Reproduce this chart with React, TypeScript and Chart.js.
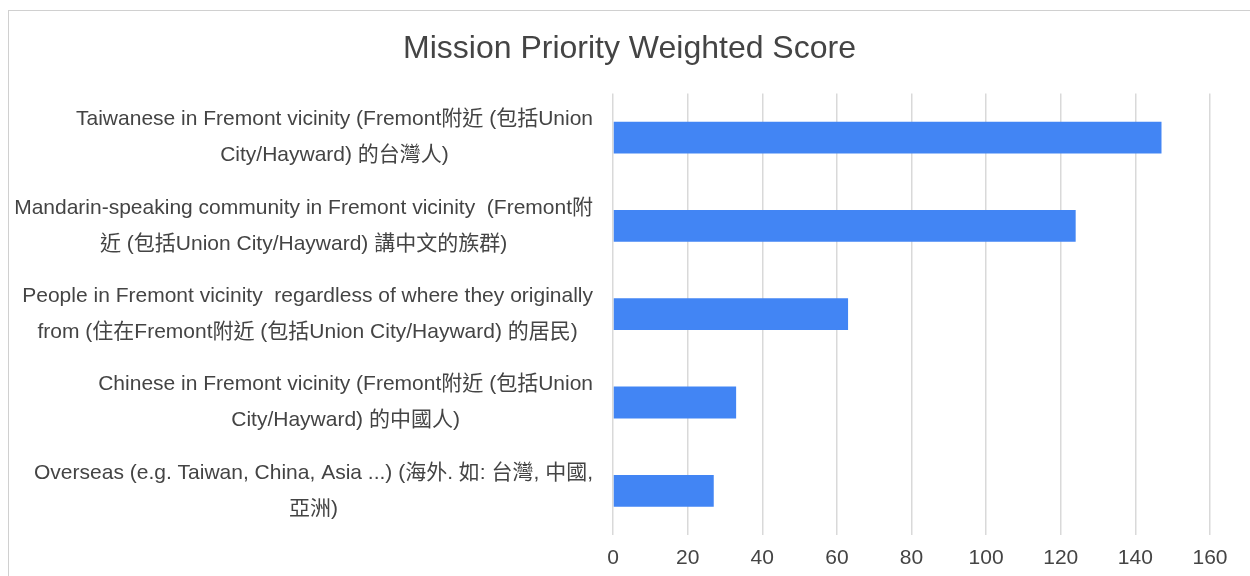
import React, { useEffect, useRef } from 'react';
import { Chart, registerables } from 'chart.js';

Chart.register(...registerables);

const TITLE = 'Mission Priority Weighted Score';

const categoryLines: string[][] = [
  ['Taiwanese in Fremont vicinity (Fremont附近 (包括Union', 'City/Hayward) 的台灣人)'],
  ['Mandarin-speaking community in Fremont vicinity  (Fremont附', '近 (包括Union City/Hayward) 講中文的族群)'],
  ['People in Fremont vicinity  regardless of where they originally', 'from (住在Fremont附近 (包括Union City/Hayward) 的居民)'],
  ['Chinese in Fremont vicinity (Fremont附近 (包括Union', 'City/Hayward) 的中國人)'],
  ['Overseas (e.g. Taiwan, China, Asia ...) (海外. 如: 台灣, 中國,', '亞洲)'],
];

const scores: number[] = [147, 124, 63, 33, 27];

const xMin = 0;
const xMax = 160;
const xStep = 20;

const FONT = "'Liberation Sans', Arial, 'Noto Sans CJK TC', sans-serif";
const TEXT = '#444444';
const BAR = '#4285F4';
const GRID = '#d9d9d9';
const LABEL_SIZE = 21;
const LABEL_LINE = 36;

const centeredLabels = {
  id: 'centeredLabels',
  afterDraw(chart: any) {
    const ctx = chart.ctx as CanvasRenderingContext2D;
    const yScale = chart.scales.y;
    const right = chart.chartArea.left - 20;
    ctx.save();
    ctx.font = `${LABEL_SIZE}px ${FONT}`;
    ctx.fillStyle = TEXT;
    ctx.textAlign = 'center';
    ctx.textBaseline = 'middle';
    categoryLines.forEach((lines, i) => {
      const cy = yScale.getPixelForValue(i);
      const w = Math.max(...lines.map((l) => ctx.measureText(l).width));
      const cx = right - w / 2;
      const n = lines.length;
      lines.forEach((l, j) => {
        ctx.fillText(l, cx, cy + (j - (n - 1) / 2) * LABEL_LINE);
      });
    });
    ctx.restore();
  },
};

export default function App() {
  const canvasRef = useRef<HTMLCanvasElement | null>(null);

  useEffect(() => {
    if (!canvasRef.current) return;
    const chart = new Chart(canvasRef.current, {
      type: 'bar',
      data: {
        labels: categoryLines.map((l) => l.join(' ')),
        datasets: [
          {
            label: TITLE,
            data: scores,
            backgroundColor: BAR,
            borderWidth: 0,
            barPercentage: 0.36,
            categoryPercentage: 1,
          },
        ],
      },
      options: {
        indexAxis: 'y',
        animation: false,
        responsive: true,
        maintainAspectRatio: false,
        layout: { padding: { top: 0, right: 0, bottom: 4, left: 0 } },
        plugins: {
          legend: { display: false },
          tooltip: { enabled: false },
          title: {
            display: true,
            text: TITLE,
            color: TEXT,
            font: { family: FONT, size: 32, weight: 'normal' },
            padding: { top: 19, bottom: 25 },
          },
        },
        scales: {
          x: {
            min: xMin,
            max: xMax,
            ticks: {
              stepSize: xStep,
              color: TEXT,
              font: { family: FONT, size: 21 },
              padding: 11,
            },
            grid: { color: GRID, lineWidth: 1.5, drawTicks: false },
            border: { display: false },
            afterFit: (s: any) => {
              s.height = 37;
              s.paddingRight = 40;
            },
          },
          y: {
            ticks: { display: false },
            grid: { display: false, drawTicks: false },
            border: { display: false },
            afterFit: (s: any) => {
              s.width = 604;
            },
          },
        },
      },
      plugins: [centeredLabels],
    });
    return () => chart.destroy();
  }, []);

  return (
    <div style={{ position: 'fixed', left: 0, top: 0, width: 1250, height: 576, overflow: 'hidden', background: '#fff' }}>
      <div
        style={{
          position: 'absolute',
          left: 8,
          top: 10,
          width: 1300,
          height: 620,
          borderLeft: '1px solid #d0d0d0',
          borderTop: '1px solid #d0d0d0',
          background: '#fff',
        }}
      >
        <div style={{ position: 'relative', width: 1241, height: 565 }}>
          <canvas ref={canvasRef} />
        </div>
      </div>
    </div>
  );
}
